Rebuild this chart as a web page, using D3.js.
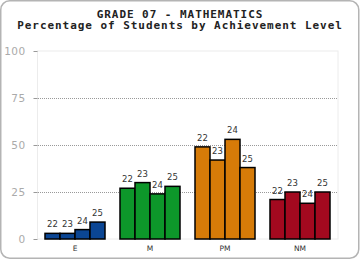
<!DOCTYPE html>
<html><head><meta charset="utf-8">
<script src="https://cdn.jsdelivr.net/npm/d3@7"></script>
<style>body{margin:0;background:#fff}</style>
</head><body><svg id="c" width="360" height="260"></svg>
<script>
const titleLines = ["GRADE 07 - MATHEMATICS", "Percentage of Students by Achievement Level"];
const categories = ["E", "M", "PM", "NM"];
const years = ["22", "23", "24", "25"];
const valuesE = [3, 3, 5, 9];
const valuesM = [27, 30, 24, 28];
const valuesPM = [49, 42, 53, 38];
const valuesNM = [21, 25, 19, 25];
const colors = ["#0b4694", "#0d972a", "#d67b08", "#a3091f"];
const yTicks = [0, 25, 50, 75, 100];

const series = [valuesE, valuesM, valuesPM, valuesNM];
const svg = d3.select("#c");
svg.append("rect").attr("x", 0.75).attr("y", 0.75).attr("width", 358).attr("height", 257.5)
  .attr("rx", 9).attr("fill", "#fff").attr("stroke", "#b4b4b4").attr("stroke-width", 1.5);

svg.selectAll("text.title").data(titleLines).join("text")
  .attr("x", 180).attr("y", (d, i) => 17.5 + i * 11.5).attr("text-anchor", "middle")
  .attr("font-family", "DejaVu Sans Mono").attr("font-weight", "bold").attr("font-size", 11)
  .attr("letter-spacing", 0.95).attr("fill", "#222").text(d => d);

const x = d3.scaleBand().domain(categories).range([37.5, 337.5]).paddingInner(0.2).paddingOuter(0.1);
const xi = d3.scaleBand().domain(years).range([0, x.bandwidth()]);
const y = d3.scaleLinear().domain([0, 100]).range([239, 51]);

svg.append("rect").attr("x", 37.5).attr("y", 51).attr("width", 300.5).attr("height", 188)
  .attr("fill", "none").attr("stroke", "#ececec").attr("stroke-width", 1);

svg.selectAll("line.grid").data([25, 50, 75]).join("line")
  .attr("x1", 38).attr("x2", 338).attr("y1", d => Math.round(y(d)) + 0.5).attr("y2", d => Math.round(y(d)) + 0.5)
  .attr("stroke", "#999").attr("stroke-dasharray", "1,1").attr("stroke-width", 1);

const yAxis = svg.append("g").attr("transform", "translate(37.5,0)")
  .call(d3.axisLeft(y).tickValues(yTicks).tickSize(4).tickPadding(8));
yAxis.select(".domain").remove();
yAxis.selectAll(".tick line").attr("stroke", "#999");
yAxis.selectAll("text").attr("font-family", "DejaVu Sans").attr("font-size", 10.5)
  .attr("letter-spacing", 0.4).attr("fill", "#aaa");

const g = svg.selectAll("g.grp").data(categories).join("g").attr("class", "grp")
  .attr("transform", d => `translate(${x(d)},0)`);
g.each(function(cat, ci) {
  const gg = d3.select(this);
  const vals = series[ci];
  gg.selectAll("rect").data(vals).join("rect")
    .attr("x", (d, i) => xi(years[i])).attr("width", xi.bandwidth())
    .attr("y", d => y(d)).attr("height", d => y(0) - y(d))
    .attr("fill", colors[ci]).attr("stroke", "#000").attr("stroke-width", 1.5);
  gg.selectAll("text").data(vals).join("text")
    .attr("x", (d, i) => xi(years[i]) + xi.bandwidth() / 2)
    .attr("y", d => y(d) - 6).attr("text-anchor", "middle")
    .attr("font-family", "DejaVu Sans").attr("font-size", 8.5).attr("fill", "#333")
    .text((d, i) => years[i]);
});

svg.selectAll("text.cat").data(categories).join("text")
  .attr("x", d => x(d) + x.bandwidth() / 2).attr("y", 250.5).attr("text-anchor", "middle")
  .attr("font-family", "DejaVu Sans").attr("font-size", 7.5).attr("fill", "#333").text(d => d);
</script></body></html>
